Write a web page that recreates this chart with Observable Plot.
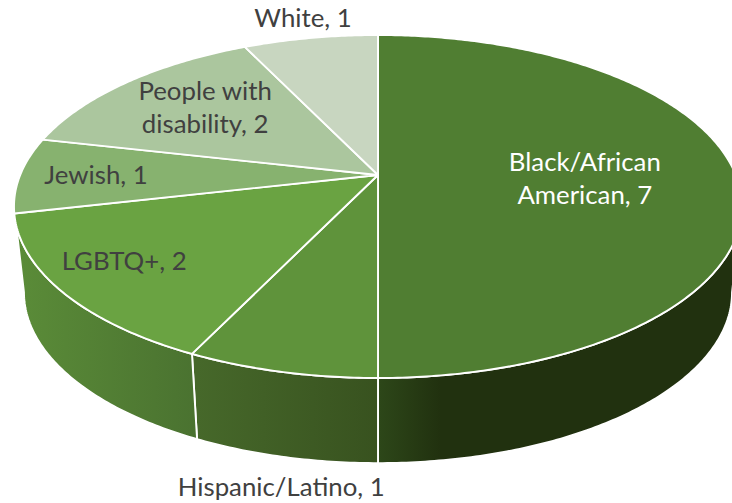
<!DOCTYPE html>
<html>
<head>
<meta charset="utf-8">
<title>Representation by group</title>
<script src="https://cdn.jsdelivr.net/npm/d3@7"></script>
<script src="https://cdn.jsdelivr.net/npm/@observablehq/plot@0.6"></script>
<style>
  html, body { margin: 0; padding: 0; background: #fff; }
  svg { display: block; }
</style>
</head>
<body>
<div id="chart"></div>
<script>
// Slices run clockwise from twelve o'clock.
const categories = ["Black/African\nAmerican", "Hispanic/Latino", "LGBTQ+", "Jewish", "People with\ndisability", "White"];
const counts = [7, 1, 2, 1, 2, 1];
const topColors = ["#507e32", "#5f933b", "#6aa342", "#87b26f", "#abc69e", "#c8d6c0"];
const labelColors = ["#ffffff", "#404040", "#404040", "#404040", "#404040", "#404040"];

// Wall shading, left to right, for the three slices whose rim faces the viewer.
const wallStops = [
  ["#2d4719", "#21310f", 378, 440],
  ["#46682a", "#38521f", 197, 378],
  ["#5a8b38", "#4a7230", 22, 197]
];

// Label placement along each slice's bisector, plus a vertical nudge.
const labelRadius = [0.578, 0.998, 0.822, 0.788, 0.665, 1.133];
const labelNudge = [2, 114, -9, -1, -5, -6];

// Perspective view of the disc: the far edge is foreshortened against the near edge.
const tilt = 0.1837;
const topDisc = {cx: 377.5, cy: 174.5, rx: 357.8, ry: 165.7};
const baseDisc = {cx: 377.5, cy: 260.5, rx: 348, ry: 165};
const horizonAngle = Math.PI / 2 + Math.asin(tilt); // where the rim turns out of sight

function project(disc, angle, r = 1) {
  const s = Math.sin(angle) * r, c = Math.cos(angle) * r, w = 1 + tilt * c;
  return {x: disc.cx + disc.rx * s / w, y: disc.cy - disc.ry * c / w};
}

function arc(disc, from, to) {
  const n = Math.max(2, Math.ceil(Math.abs(to - from) * 90));
  return d3.range(n + 1).map(i => project(disc, from + (to - from) * i / n));
}

const total = d3.sum(counts);
const ends = d3.cumsum(counts).map(v => v / total * 2 * Math.PI);
const starts = ends.map((_, i) => i ? ends[i - 1] : 0);

const sliceMarks = counts.map((_, i) => {
  const rim = arc(topDisc, starts[i], ends[i]);
  const hub = project(topDisc, 0, 0);
  return Plot.line([hub, ...rim, hub], {x: "x", y: "y", curve: "linear", fill: topColors[i], stroke: "#fff", strokeWidth: 1.9});
});

// Only the near part of the rim shows a wall.
const wallSpans = [[horizonAngle, ends[0]], [ends[0], ends[1]], [ends[1], 2 * Math.PI - horizonAngle]];
const wallMarks = wallSpans.map(([from, to], i) => {
  const upper = arc(topDisc, from, to);
  const lower = arc(baseDisc, to, from);
  return Plot.line([...upper, ...lower, upper[0]], {x: "x", y: "y", curve: "linear", fill: `url(#wall${i})`, stroke: "#fff", strokeWidth: 1.9});
});

function wallGradients() {
  const ns = "http://www.w3.org/2000/svg";
  const defs = document.createElementNS(ns, "defs");
  wallStops.forEach(([from, to, x1, x2], i) => {
    const g = document.createElementNS(ns, "linearGradient");
    g.setAttribute("id", `wall${i}`);
    g.setAttribute("gradientUnits", "userSpaceOnUse");
    g.setAttribute("x1", x1); g.setAttribute("x2", x2);
    g.setAttribute("y1", 0); g.setAttribute("y2", 0);
    [[0, from], [1, to]].forEach(([offset, color]) => {
      const stop = document.createElementNS(ns, "stop");
      stop.setAttribute("offset", offset);
      stop.setAttribute("stop-color", color);
      g.appendChild(stop);
    });
    defs.appendChild(g);
  });
  return defs;
}

const labels = categories.map((name, i) => {
  const p = project(topDisc, (starts[i] + ends[i]) / 2, labelRadius[i]);
  return {x: p.x, y: p.y + labelNudge[i], text: `${name}, ${counts[i]}`, color: labelColors[i]};
});

const chart = Plot.plot({
  width: 732,
  height: 503,
  margin: 0,
  x: {domain: [0, 732], range: [0, 732], axis: null},
  y: {domain: [0, 503], range: [0, 503], axis: null},
  color: {type: "identity"},
  style: {background: "#fff"},
  marks: [
    wallGradients,
    ...wallMarks,
    ...sliceMarks,
    Plot.text(labels, {
      x: "x", y: "y", text: "text", fill: "color",
      fontFamily: "Lato, sans-serif", fontSize: 25.8, lineHeight: 1.26, lineAnchor: "middle", textAnchor: "middle"
    })
  ]
});
document.getElementById("chart").appendChild(chart);
</script>
</body>
</html>
